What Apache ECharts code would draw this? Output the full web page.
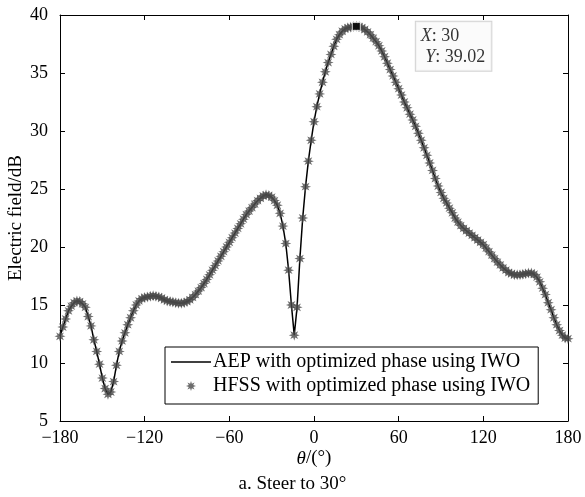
<!DOCTYPE html>
<html>
<head>
<meta charset="utf-8">
<script src="https://cdn.jsdelivr.net/npm/echarts@6/dist/echarts.min.js"></script>
<style>
html,body{margin:0;padding:0;background:#fff;}
#chart{width:585px;height:497px;}
</style>
</head>
<body>
<div id="chart"></div>
<script>
// ---- data ----
const theta = [
-180,-178,-176,-174,-172,-170,-168,-166,-164,-162,-160,-158,-156,-154,-152,-150,-148,-146,-144,-142,
-140,-138,-136,-134,-132,-130,-128,-126,-124,-122,-120,-118,-116,-114,-112,-110,-108,-106,-104,-102,
-100,-98,-96,-94,-92,-90,-88,-86,-84,-82,-80,-78,-76,-74,-72,-70,-68,-66,-64,-62,
-60,-58,-56,-54,-52,-50,-48,-46,-44,-42,-40,-38,-36,-34,-32,-30,-28,-26,-24,-22,
-20,-18,-16,-14,-12,-10,-8,-6,-4,-2,0,2,4,6,8,10,12,14,16,18,
20,22,24,26,28,30,32,34,36,38,40,42,44,46,48,50,52,54,56,58,
60,62,64,66,68,70,72,74,76,78,80,82,84,86,88,90,92,94,96,98,
100,102,104,106,108,110,112,114,116,118,120,122,124,126,128,130,132,134,136,138,
140,142,144,146,148,150,152,154,156,158,160,162,164,166,168,170,172,174,176,178,180
];
const aepValues = [
12.3,13.1,13.8,14.5,14.9,15.2,15.35,15.3,15.1,14.8,14.0,13.2,12.0,11.0,9.9,8.7,7.8,7.3,7.5,8.4,
9.8,11.0,11.9,12.6,13.3,13.9,14.5,15.0,15.35,15.55,15.65,15.7,15.75,15.8,15.75,15.7,15.6,15.45,15.35,15.3,
15.25,15.2,15.15,15.15,15.2,15.3,15.45,15.65,15.9,16.2,16.5,16.85,17.2,17.6,18.0,18.4,18.8,19.2,19.6,20.0,
20.4,20.8,21.2,21.6,22.0,22.4,22.8,23.1,23.4,23.7,24.0,24.2,24.4,24.5,24.45,24.3,24.0,23.6,22.9,21.8,
20.3,18.0,15.0,12.4,14.8,19.0,22.5,25.2,27.4,29.2,30.8,32.1,33.2,34.2,35.1,35.9,36.6,37.3,37.9,38.3,
38.6,38.8,38.9,38.95,39.0,39.02,39.0,38.9,38.75,38.55,38.3,38.0,37.7,37.35,36.9,36.4,35.85,35.3,34.75,34.2,
33.65,33.1,32.5,32.0,31.45,30.95,30.4,29.8,29.2,28.55,27.9,27.25,26.6,25.9,25.25,24.7,24.2,23.8,23.35,22.95,
22.5,22.15,21.85,21.6,21.4,21.2,21.0,20.8,20.6,20.4,20.2,19.9,19.6,19.3,19.0,18.7,18.45,18.2,18.0,17.8,
17.7,17.6,17.6,17.6,17.65,17.7,17.75,17.75,17.65,17.4,17.0,16.45,15.9,15.2,14.6,13.9,13.3,12.8,12.4,12.15,12.1
];
const hfssValues = aepValues.slice();
const xTicks = [-180, -120, -60, 0, 60, 120, 180];
const yTicks = [5, 10, 15, 20, 25, 30, 35, 40];
const peakTheta = 30;
const peakValue = 39.02;
const seriesNames = ['AEP with optimized phase using IWO', 'HFSS with optimized phase using IWO'];

// ---- chart ----
const FONT = '"Liberation Serif", "Times New Roman", serif';
const starPath = 'path://M20,10L14.4,11.8L17.07,17.07L11.8,14.4L10,20L8.2,14.4L2.93,17.07L5.6,11.8L0,10L5.6,8.2L2.93,2.93L8.2,5.6L10,0L11.8,5.6L17.07,2.93L14.4,8.2Z';
const linePath = 'path://M0,0L40,0L40,1.6L0,1.6Z';
const aepData = theta.map((t, i) => [t, aepValues[i]]);
const hfssData = theta.map((t, i) => [t, hfssValues[i]]);

const chart = echarts.init(document.getElementById('chart'), null, {renderer: 'canvas'});

const axisCommon = {
  axisLine: {show: true, onZero: false, lineStyle: {color: '#000', width: 1}},
  axisTick: {show: true, inside: true, length: 5, lineStyle: {color: '#000'}},
  splitLine: {show: false}
};

chart.setOption({
  animation: false,
  backgroundColor: '#fff',
  textStyle: {fontFamily: FONT},
  title: {
    text: 'a. Steer to 30°',
    left: 'center',
    top: 470,
    textStyle: {fontFamily: FONT, fontSize: 19, fontWeight: 'normal', color: '#000'}
  },
  grid: {left: 60, right: 17, top: 15, bottom: 76, containLabel: false, outerBoundsMode: 'none'},
  legend: {
    data: [
      {name: seriesNames[0], icon: linePath, itemStyle: {color: '#000'}},
      {name: seriesNames[1], icon: starPath}
    ],
    orient: 'vertical',
    left: 165,
    top: 347,
    itemWidth: 40,
    itemHeight: 10,
    itemGap: 4,
    padding: [5, 8, 8, 6],
    borderColor: '#000',
    borderWidth: 1,
    backgroundColor: '#fff',
    textStyle: {fontFamily: FONT, fontSize: 20, color: '#000', padding: [0, 0, 0, -3]}
  },
  xAxis: [
    Object.assign({}, axisCommon, {
      type: 'value', min: -180, max: 180, interval: 60, position: 'bottom',
      axisLabel: {color: '#000', fontFamily: FONT, fontSize: 18, margin: 8,
        formatter: v => (v < 0 ? '\u2212' + Math.abs(v) : String(v))},
      name: '{i|θ}/(°)',
      nameLocation: 'middle',
      nameGap: 28,
      nameMoveOverlap: false,
      nameTextStyle: {color: '#000', fontFamily: FONT, fontSize: 19,
        rich: {i: {fontStyle: 'italic', fontFamily: FONT, fontSize: 19, color: '#000'}}}
    }),
    Object.assign({}, axisCommon, {
      type: 'value', min: -180, max: 180, interval: 60, position: 'top',
      axisLabel: {show: false}
    })
  ],
  yAxis: [
    Object.assign({}, axisCommon, {
      type: 'value', min: 5, max: 40, interval: 5, position: 'left',
      axisLabel: {color: '#000', fontFamily: FONT, fontSize: 18, margin: 12},
      name: 'Electric field/dB',
      nameLocation: 'middle',
      nameGap: 34,
      nameMoveOverlap: false,
      nameTextStyle: {color: '#000', fontFamily: FONT, fontSize: 19}
    }),
    Object.assign({}, axisCommon, {
      type: 'value', min: 5, max: 40, interval: 5, position: 'right',
      axisLabel: {show: false}
    })
  ],
  series: [
    {
      name: seriesNames[0],
      type: 'line',
      data: aepData,
      showSymbol: false,
      symbol: 'none',
      lineStyle: {color: '#000', width: 1.5},
      itemStyle: {color: '#000'},
      z: 2
    },
    {
      name: seriesNames[1],
      type: 'scatter',
      data: hfssData,
      symbol: starPath,
      symbolSize: 11,
      itemStyle: {color: '#484848'},
      z: 3
    },
    {
      name: 'peak',
      type: 'scatter',
      data: [[peakTheta, peakValue]],
      symbol: 'rect',
      symbolSize: 8,
      itemStyle: {color: '#000', borderColor: '#fff', borderWidth: 1},
      z: 5,
      label: {
        show: true,
        position: [64, 0],
        formatter: '{i|X}: ' + peakTheta + '\n {i|Y}: ' + peakValue.toFixed(2),
        backgroundColor: '#fafafa',
        borderColor: '#c8c8c8',
        borderWidth: 1,
        padding: [4, 6, 3, 5],
        color: '#000',
        fontFamily: FONT,
        fontSize: 18,
        lineHeight: 21,
        rich: {i: {fontStyle: 'italic', fontFamily: FONT, fontSize: 18, color: '#000', lineHeight: 21}}
      }
    }
  ]
});
</script>
</body>
</html>
